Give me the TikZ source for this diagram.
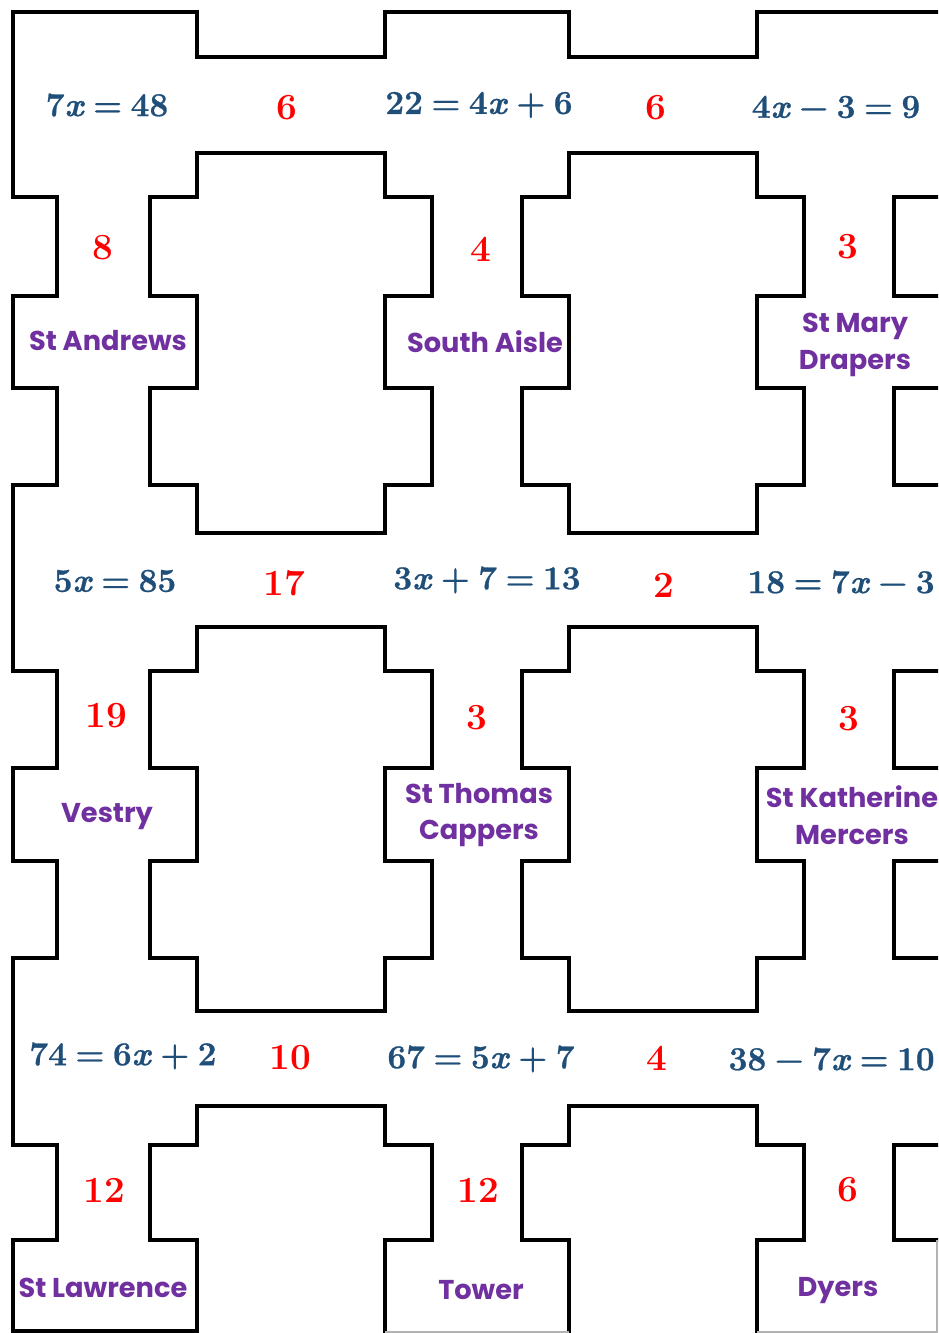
\documentclass[tikz,border=0pt]{standalone}
\usepackage{fontspec}
\usepackage{tikz}
\newfontfamily\namefont{Poppins}
\newfontfamily\eqfont{Latin Modern Roman}[FakeBold=0.8]
\definecolor{eqblue}{HTML}{1F4E79}
\definecolor{numred}{HTML}{FF0000}
\definecolor{roompurple}{HTML}{7030A0}
\newcommand{\eqspacing}{\spaceskip=0.25em plus 0pt minus 0pt\relax}
\tikzset{
  wall/.style={draw=black,line width=2.3pt,line join=miter},
  edgeline/.style={draw=black!30,line width=0.6pt},
  eqlabel/.style={text=eqblue,inner sep=0pt,
    font=\eqfont\fontsize{19}{22}\selectfont\bfseries\eqspacing},
  numlabel/.style={text=numred,font=\fontsize{21}{24}\selectfont\bfseries,inner sep=0pt},
  roomlabel/.style={text=roompurple,font=\namefont\bfseries\fontsize{15.5}{21}\selectfont,
    align=center,inner sep=0pt}
}
\newcommand{\vx}{\textit{x}}
% pillar: centre x, top, four steps, bottom (pixel units, y downwards)
\newcommand{\pillarblock}[7]{%
  \draw[wall] ({#1-94},#2) -- ({#1+94},#2) -- ({#1+94},#3) -- ({#1+141},#3)
    -- ({#1+141},#4) -- ({#1+94},#4) -- ({#1+94},#5) -- ({#1+141},#5)
    -- ({#1+141},#6) -- ({#1+94},#6) -- ({#1+94},#7) -- ({#1-94},#7)
    -- ({#1-94},#6) -- ({#1-141},#6) -- ({#1-141},#5) -- ({#1-94},#5)
    -- ({#1-94},#4) -- ({#1-141},#4) -- ({#1-141},#3) -- ({#1-94},#3) -- cycle;}
\newcommand{\openpillar}[4]{%
  \draw[wall] ({#1-94},1345) -- ({#1-94},#4) -- ({#1-141},#4) -- ({#1-141},#3)
    -- ({#1-94},#3) -- ({#1-94},#2) -- ({#1+94},#2) -- ({#1+94},#3)
    -- ({#1+141},#3) -- ({#1+141},#4) -- ({#1+94},#4) -- ({#1+94},1345);}

\begin{document}
\begin{tikzpicture}[x=0.2mm,y=-0.2mm]
  \useasboundingbox (0,0) rectangle (938,1333);
  \clip (0,0) rectangle (938,1333);
  % outer walls
  \draw[wall] (197,1331) -- (13,1331) -- (13,1240) -- (57,1240) -- (57,1145)
    -- (13,1145) -- (13,958) -- (57,958) -- (57,861) -- (13,861) -- (13,768)
    -- (57,768) -- (57,671) -- (13,671) -- (13,485) -- (57,485) -- (57,388)
    -- (13,388) -- (13,296) -- (57,296) -- (57,197) -- (13,197) -- (13,12)
    -- (197,12) -- (197,57) -- (385,57) -- (385,12) -- (569,12) -- (569,57)
    -- (757,57) -- (757,12) -- (945,12);
  \foreach \cx in {291,663,1035} {
    \pillarblock{\cx}{153}{197}{296}{388}{485}{533}
    \pillarblock{\cx}{627}{671}{768}{861}{958}{1011}
    \openpillar{\cx}{1106}{1145}{1240}
  }
  \draw[edgeline] (385,1332) -- (569,1332);
  \draw[edgeline] (757,1332) -- (938,1332);
  \draw[edgeline] (937,1240) -- (937,1333);

  % first corridor
  \node[eqlabel] (e1) at (107,105) {7\vx{} = 48};
  \node[numlabel] (n1) at (287,108) {6};
  \node[eqlabel] (e2) at (479,105) {22 = 4\vx{} + 6};
  \node[numlabel] (n2) at (656,108) {6};
  \node[eqlabel] (e3) at (836,107) {4\vx{} − 3 = 9};
  \node[numlabel] (n3) at (103,248) {8};
  \node[numlabel] (n4) at (481,249) {4};
  \node[numlabel] (n5) at (848,247) {3};
  \node[roomlabel] (r1) at (108,341) {St Andrews};
  \node[roomlabel] (r2) at (485,342) {South Aisle};
  \node[roomlabel] (r3) at (855,345) {St Mary\\Drapers};

  % second corridor
  \node[eqlabel] (e4) at (115,581) {5\vx{} = 85};
  \node[numlabel] (n6) at (284,583) {17};
  \node[eqlabel] (e5) at (487,580) {3\vx{} + 7 = 13};
  \node[numlabel] (n7) at (664,585) {2};
  \node[eqlabel,anchor=east] (e6) at (935,582) {18 = 7\vx{} − 3};
  \node[numlabel] (n8) at (106,716) {19};
  \node[numlabel] (n9) at (477,718) {3};
  \node[numlabel] (n10) at (849,719) {3};
  \node[roomlabel] (r4) at (107,817) {Vestry};
  \node[roomlabel] (r5) at (479,815) {St Thomas\\Cappers};
  \node[roomlabel] (r6) at (852,815) {St Katherine\\Mercers};

  % third corridor
  \node[eqlabel] (e7) at (123,1056) {74 = 6\vx{} + 2};
  \node[numlabel] (n11) at (290,1058) {10};
  \node[eqlabel] (e8) at (481,1059) {67 = 5\vx{} + 7};
  \node[numlabel] (n12) at (657,1058) {4};
  \node[eqlabel,anchor=east] (e9) at (935,1059) {38 − 7\vx{} = 10};
  \node[numlabel] (n13) at (104,1190) {12};
  \node[numlabel] (n14) at (478,1190) {12};
  \node[numlabel] (n15) at (848,1190) {6};
  \node[roomlabel] (r7) at (103,1288) {St Lawrence};
  \node[roomlabel] (r8) at (481,1290) {Tower};
  \node[roomlabel] (r9) at (838,1291) {Dyers};
\end{tikzpicture}
\end{document}
